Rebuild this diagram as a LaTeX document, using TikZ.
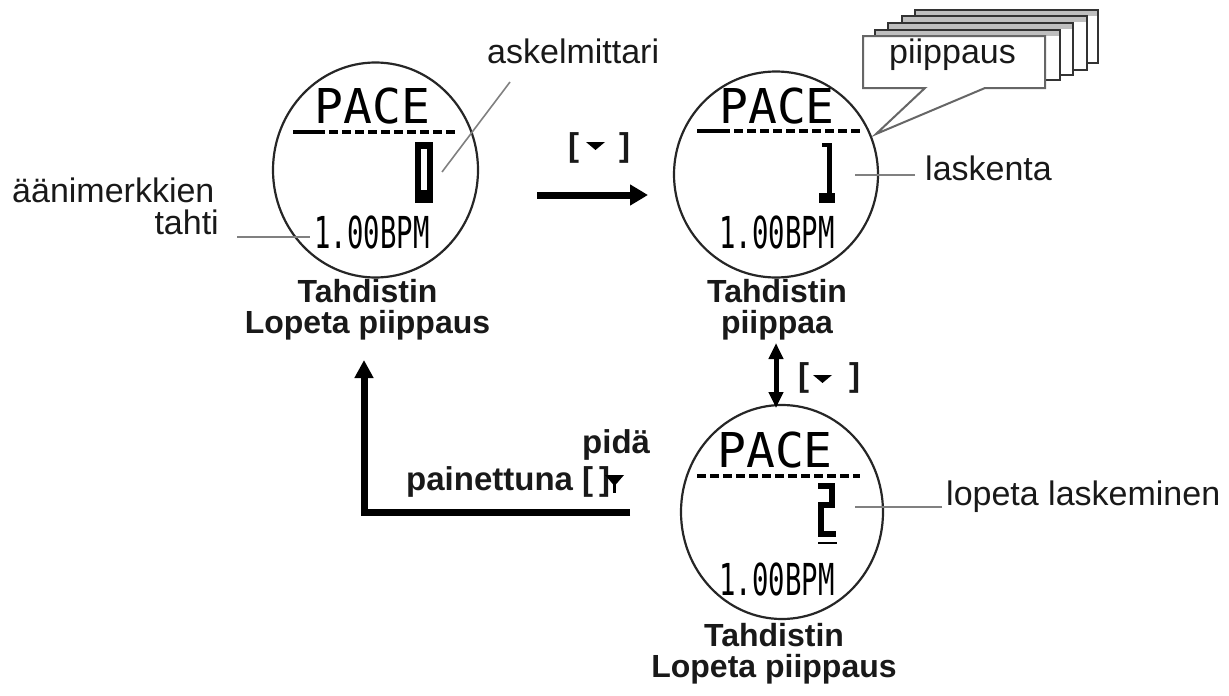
\documentclass[tikz,border=0pt]{standalone}
\usepackage{fontspec}
\setmainfont{Liberation Sans}
\newfontfamily\lcdfont{DejaVu Sans Mono}
\usetikzlibrary{shapes.geometric,arrows.meta}
\newcommand\bpmtext[1]{\scalebox{0.62}[1]{\fontsize{44}{44}\lcdfont #1}}
\tikzset{
  dial/.style={ellipse, draw=black!85, line width=2.2pt, inner sep=0pt},
  captxt/.style={font=\fontsize{32}{31}\selectfont\bfseries, align=center, inner sep=0pt, anchor=north, text=black!90},
  lbl/.style={font=\fontsize{34}{34}\selectfont, inner sep=0pt, text=black!90},
  keylbl/.style={font=\fontsize{33}{33}\selectfont\bfseries, inner sep=0pt, text=black!90},
  leader/.style={draw=black!50, line width=1.6pt},
  pacetext/.style={font=\fontsize{48}{48}\lcdfont, inner sep=0pt, anchor=base},
  bpm/.style={inner sep=0pt, anchor=base},
  segsolid/.style={line width=3.5pt},
  segdash/.style={line width=3.5pt, dash pattern=on 9pt off 4pt},
  flow/.style={line width=7pt, line join=miter, -{Triangle[length=18pt,width=20pt]}},
  card/.style={fill=white, draw=black!80, line width=1.5pt},
  cardband/.style={fill=gray!50},
}
\begin{document}
\begin{tikzpicture}[x=1pt,y=-1pt]
\useasboundingbox (0,0) rectangle (1229,696);

% ---------- dials ----------
\node[dial, minimum width=205pt, minimum height=215pt] (c1) at (375.5,170) {};
\node[dial, minimum width=204pt, minimum height=206pt] (c2) at (776,174.5) {};
\node[dial, minimum width=202pt, minimum height=214pt] (c3) at (782,512) {};

% dial 1 contents
\node[pacetext] (p1) at (372.5,123) {PACE};
\draw[segsolid] (293,132) -- (325,132);
\draw[segdash] (329,132) -- (455,132);
\fill (415,142) rectangle (433,203);
\fill[white] (421,149) rectangle (427,190);
\node[bpm] (b1) at (372,248) {\bpmtext{1.00BPM}};

% dial 2 contents
\node[pacetext] (p2) at (777,123) {PACE};
\draw[segsolid] (697,131) -- (730,131);
\draw[segdash] (734,131) -- (860,131);
\fill (827,145) rectangle (832,195);
\fill (822,143) rectangle (832,147);
\fill (819,193) rectangle (835,203);
\node[bpm] (b2) at (777,248) {\bpmtext{1.00BPM}};

% dial 3 contents
\node[pacetext] (p3) at (775,467) {PACE};
\draw[segdash] (697,476) -- (860,476);
\draw[line width=6pt, line join=miter] (818,486) -- (832,486) -- (832,505) -- (821,505) -- (821,534) -- (836,534);
\draw[line width=2pt] (818,543) -- (837,543);
\node[bpm] (b3) at (777,595) {\bpmtext{1.00BPM}};

% ---------- captions ----------
\node[captxt] (t1) at (367.5,279) {Tahdistin\\Lopeta piippaus};
\node[captxt] (t2) at (777,279) {Tahdistin\\piippaa};
\node[captxt] (t3) at (774,623) {Tahdistin\\Lopeta piippaus};

% ---------- callout labels ----------
\node[lbl, anchor=base west] (l1) at (12,202) {äänimerkkien};
\node[lbl, anchor=base east] (l2) at (219,234) {tahti};
\coordinate (l2a) at (237,237);
\coordinate (l2b) at (310,237);
\draw[leader] (l2a) -- (l2b);

\node[lbl, anchor=base west] (ask) at (487,63) {askelmittari};
\coordinate (aska) at (510,82);
\coordinate (askb) at (442,172);
\draw[leader] (aska) -- (askb);

\node[lbl, anchor=base west] (lask) at (925,180) {laskenta};
\coordinate (laska) at (915,175);
\coordinate (laskb) at (855,175);
\draw[leader] (laska) -- (laskb);

\node[lbl, anchor=base west] (lop) at (946,505) {lopeta laskeminen};
\coordinate (lopa) at (942,507);
\coordinate (lopb) at (855,507);
\draw[leader] (lopa) -- (lopb);

% ---------- speech bubble stack ----------
\foreach \l/\t/\r/\b in {915/10/1098/63, 902/16/1087/70, 888/23/1073/75, 875/30/1060/80}{
  \draw[card] (\l,\t) rectangle (\r,\b);
  \fill[cardband] (\l+1,\t+1) rectangle (\r-1,\t+6);
}
\draw[fill=white, draw=black!60, line width=2pt, line join=miter]
  (863,36) -- (1045,36) -- (1045,88) -- (985,88) -- (876,134) -- (925,88) -- (863,88) -- cycle;
\node[lbl, anchor=base west] (beep) at (889,63) {piippaus};

% ---------- transitions ----------
\coordinate (a1s) at (537,195);
\coordinate (a1e) at (648,195);
\draw[flow] (a1s) -- (a1e);
\node[keylbl, anchor=base west] (k1) at (568,156) {[\hspace{40pt}]};
\fill (586,142) -- (605,142) -- (595.5,150) -- cycle;

\coordinate (d1) at (776,343);
\coordinate (d2) at (776,408);
\draw[line width=5pt, {Triangle[length=16pt,width=14pt]}-{Triangle[length=16pt,width=14pt]}] (d1) -- (d2);
\node[keylbl, anchor=base west] (k2) at (798,386) {[\hspace{40pt}]};
\fill (813,375) -- (832,375) -- (822.5,383) -- cycle;

\coordinate (r0) at (630,512.5);
\coordinate (r1) at (364,512.5);
\coordinate (r2) at (364,360);
\draw[flow, -{Triangle[length=18pt,width=18pt]}] (r0) -- (r1) -- (r2);
\node[keylbl, anchor=base west] (k3a) at (582,453) {pidä};
\node[keylbl, anchor=base west] (k3b) at (406,490) {painettuna\hspace{9pt}[\hspace{6pt}]};
\fill (605,475) -- (624,475) -- (614.5,486) -- cycle;
\draw[line width=2.5pt] (614.5,483) -- (614.5,493);

\end{tikzpicture}
\end{document}
